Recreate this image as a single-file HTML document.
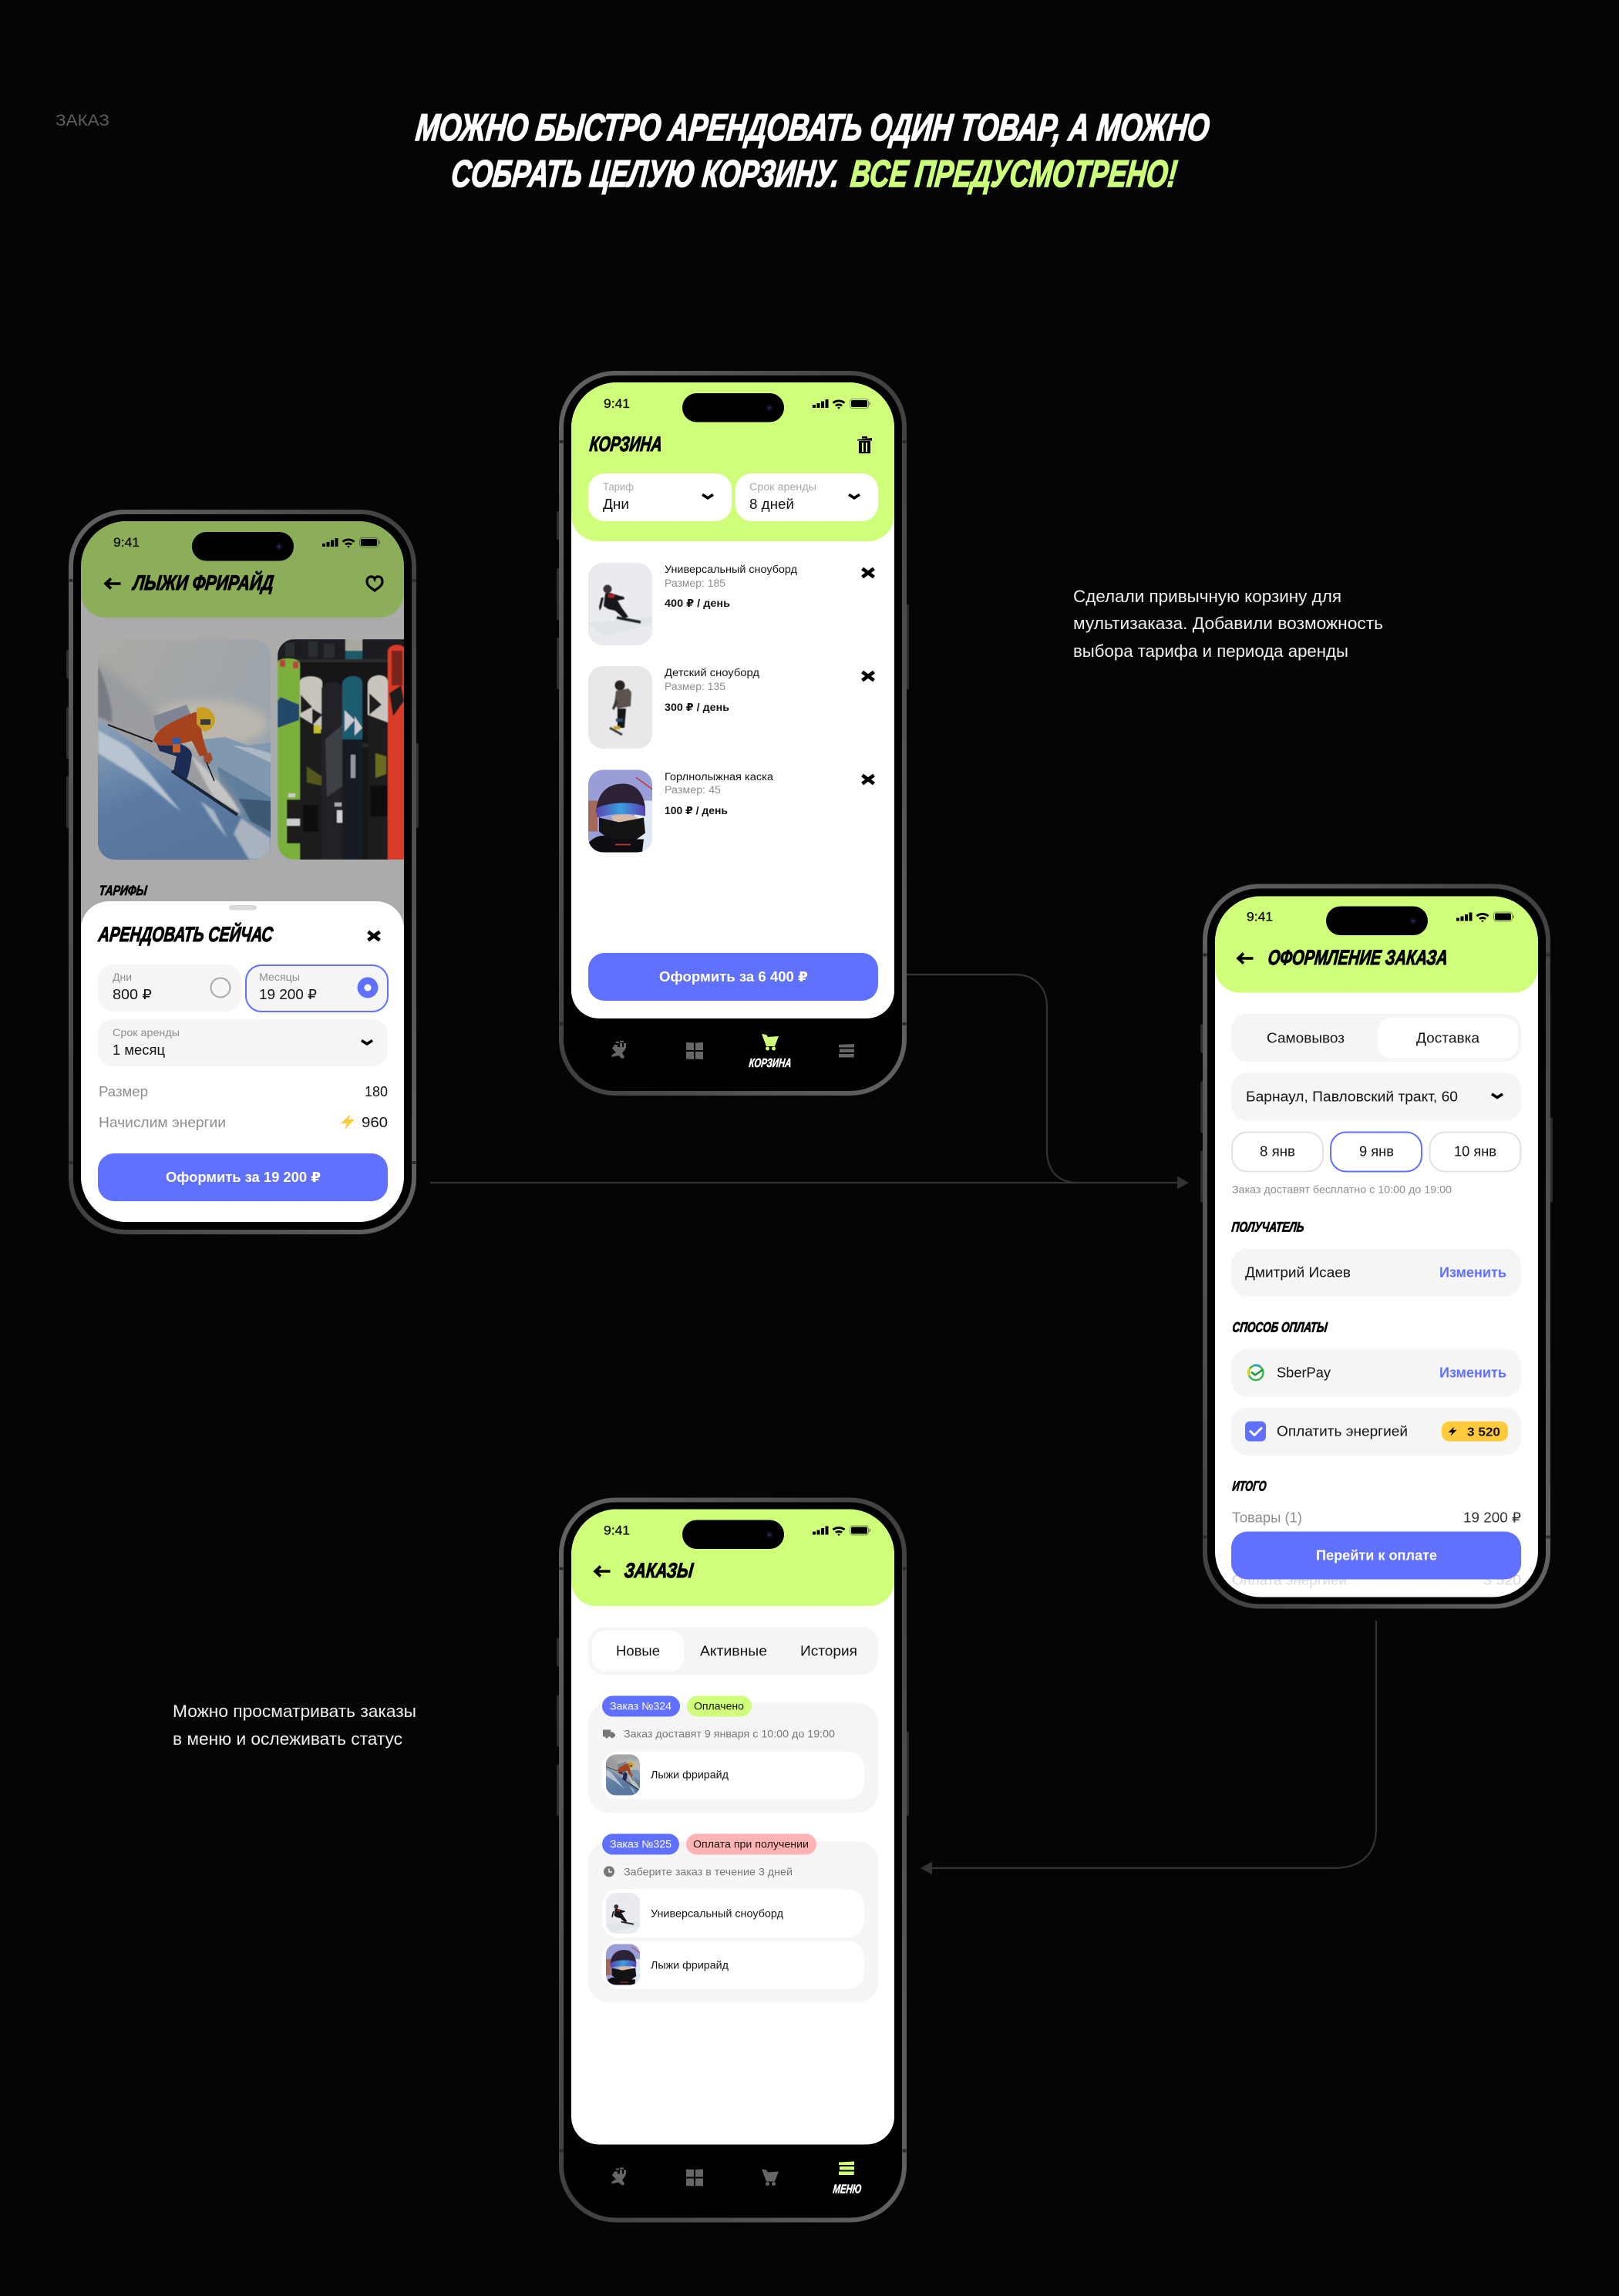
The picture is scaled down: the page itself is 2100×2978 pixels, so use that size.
<!DOCTYPE html>
<html lang="ru"><head><meta charset="utf-8"><title>Заказ</title>
<style>
html,body{margin:0;padding:0;background:#050505}
svg{display:block}
text{font-family:"Liberation Sans","DejaVu Sans",sans-serif;fill:#141414;font-size:18px;white-space:pre}
.s{font-size:13.5px}
.g{fill:#8e8e8e}
.dg{fill:#777}
.m{font-weight:bold}
.w{fill:#fff}
.bl{fill:#6070ff;font-weight:bold}
.st{font-size:17px;fill:#111;stroke:#111;stroke-width:.35px}
.h{font-weight:bold;font-style:italic;fill:#000;stroke:#000;stroke-width:1.1px;font-size:27px}
.h2{font-weight:bold;font-style:italic;fill:#000;stroke:#000;stroke-width:.8px;font-size:18px}
.t{font-weight:bold;font-style:italic;fill:#fff;stroke:#fff;stroke-width:.5px;font-size:16px}
.tt{font-weight:bold;font-style:italic;font-size:49px;fill:#fff;stroke:#fff;stroke-width:1.6px}
.tg{fill:#ccff7a;stroke:#ccff7a}
.side{font-size:22px;fill:#f0f0f0}
.ic{fill:none;stroke:#000;stroke-width:3.6;stroke-linecap:butt;stroke-linejoin:miter}
</style></head><body>
<svg width="2100" height="2978" viewBox="0 0 2100 2978">
<defs>
<clipPath id="scr"><rect width="419" height="909" rx="59"/></clipPath>
<clipPath id="c224"><rect width="224" height="286" rx="22"/></clipPath>
<clipPath id="c83"><rect width="83" height="107" rx="19"/></clipPath>
<clipPath id="c44"><rect width="44" height="53" rx="13"/></clipPath>
<linearGradient id="ring" x1="0" y1="0" x2="1" y2="1"><stop offset="0" stop-color="#626262"/><stop offset=".5" stop-color="#404040"/><stop offset="1" stop-color="#626262"/></linearGradient>
<linearGradient id="sky" x1="0" y1="0" x2="1" y2=".6"><stop offset="0" stop-color="#acaaa5"/><stop offset="1" stop-color="#9aa4ad"/></linearGradient>
<linearGradient id="snow" x1="0" y1="0" x2=".5" y2="1"><stop offset="0" stop-color="#8ea3bb"/><stop offset=".55" stop-color="#5b7ba2"/><stop offset="1" stop-color="#56769c"/></linearGradient>
<linearGradient id="gog" x1="0" y1="0" x2="1" y2="0"><stop offset="0" stop-color="#5a3fb0"/><stop offset=".5" stop-color="#3aa0e0"/><stop offset="1" stop-color="#5a3fb0"/></linearGradient>
<linearGradient id="fade" x1="0" y1="0" x2="0" y2="1"><stop offset="0" stop-color="#fff" stop-opacity="0"/><stop offset="1" stop-color="#fff"/></linearGradient>
<filter id="bl5" x="-20%" y="-20%" width="140%" height="140%"><feGaussianBlur stdDeviation="6"/></filter>
<filter id="bl1"><feGaussianBlur stdDeviation="1.200"/></filter>
<filter id="bl05"><feGaussianBlur stdDeviation=".6"/></filter>

<g id="frame">
<rect x="-19" y="167" width="5" height="37" rx="2" fill="#2c2c2c"/>
<rect x="-19" y="241" width="5" height="67" rx="2" fill="#2c2c2c"/>
<rect x="-19" y="331" width="5" height="67" rx="2" fill="#2c2c2c"/>
<rect x="433" y="288" width="5" height="110" rx="2" fill="#2c2c2c"/>
<rect x="-13" y="-12" width="445" height="934" rx="70" fill="#000" stroke="url(#ring)" stroke-width="6"/>
<rect x="-15.500" y="75" width="5" height="4" fill="#2a2a2a"/><rect x="429.500" y="75" width="5" height="4" fill="#2a2a2a"/>
<rect x="-15.500" y="830" width="5" height="4" fill="#2a2a2a"/><rect x="429.500" y="830" width="5" height="4" fill="#2a2a2a"/>
</g>

<g id="status">
<rect x="144" y="14" width="132" height="37.500" rx="18.700" fill="#000"/>
<circle cx="257" cy="33" r="4.500" fill="#0c0d1e"/><circle cx="257" cy="33" r="1.800" fill="#2b2950"/>
<path d="M313 29h4v4h-4zM318.500 27h4v6h-4zM324 24.500h4v8.500h-4zM329.500 22h4v11h-4z" fill="#000"/>
<path d="M338.500 25.500a13.500 13.500 0 0 1 17 0l-1.900 2.200a10.500 10.500 0 0 0-13.200 0zM342 29.200a8 8 0 0 1 10 0l-1.900 2.200a5 5 0 0 0-6.200 0zM345.200 32.700a3 3 0 0 1 3.600 0l-1.800 2z" fill="#000"/>
<rect x="361.500" y="21.500" width="24" height="12" rx="3.500" fill="none" stroke="#000" stroke-opacity=".4"/>
<rect x="363" y="23" width="21" height="9" rx="2" fill="#000"/>
<rect x="386.500" y="25.500" width="1.500" height="4" rx=".7" fill="#000" fill-opacity=".5"/>
</g>

<path id="back" class="ic" d="M21.500 0H2M9-6.500L2 0L9 6.500"/>
<path id="chev" class="ic" d="M-7-2.500L0 2L7-2.500"/>
<path id="x" class="ic" style="stroke-width:4.600" d="M-7.500-5.500L7.500 5.500M7.500-5.500L-7.500 5.500"/>
<path id="bolt" d="M4-10L-9 2H-1L-4 10L9-3H1z"/>

<g id="tab0"><path d="M5 3h4v3h3V1h3v5h2V1h3v5l-1 3-4 5 2 3 1 3-3 1-5-4-4 1-5 1 1-3 5-3-3-3-2-2z"/><rect x="7" y="-1" width="4" height="2"/><rect x="12" y="-2" width="5" height="2"/></g>
<g id="tab1"><path d="M0 0l10 .500v9.500H0zM12 .500L22 0v10H12zM0 12h10v10L0 21.500zM12 12h10v10l-10-.500z"/></g>
<g id="tab2"><path d="M0 0L6 1L8 4L22 3L17 16H6zM5 19a2.500 2.500 0 1 0 5 0a2.500 2.500 0 1 0-5 0zM13 19a2.500 2.500 0 1 0 5 0a2.500 2.500 0 1 0-5 0z"/></g>
<g id="tab3"><path d="M0 1L20 0v4.500H0zM1 6.500H20V11H1zM0 13H20L19.500 17.500H0z"/></g>
<g id="trash"><path d="M0 4L19 2v3.500H0zM6 0h7v2.500H6zM2 6h15v16H2z" fill="#000"/><rect x="6" y="8" width="2" height="12" fill="#cfff7a"/><rect x="11" y="8" width="2" height="12" fill="#cfff7a"/></g>

<g id="ski">
<rect width="224" height="286" fill="url(#sky)"/>
<ellipse cx="140" cy="110" rx="80" ry="30" fill="#bcb7ae" filter="url(#bl5)"/>
<path d="M135 130L165 127L195 138L224 134V260H135z" fill="#8098b0"/>
<path d="M175 138L224 160V148L200 141z" fill="#aab8c6"/>
<path d="M155 165L224 205V265H170z" fill="#5f7e9c"/>
<path d="M182 207L224 210V250L198 236z" fill="#3f5873"/>
<path d="M-10 25C30 45 70 85 100 125C135 160 170 190 188 230L160 240L95 175L-10 115z" fill="#9a9c9f" filter="url(#bl5)"/>
<path d="M120 150C150 175 175 205 185 226L150 205z" fill="#c5c5c4" filter="url(#bl1)"/>
<path d="M0 35C12 60 20 90 18 108L0 100z" fill="#777b82" filter="url(#bl1)"/>
<path d="M0 104C50 135 130 195 224 256V286H0z" fill="url(#snow)"/>
<path d="M0 118L40 140L108 224L62 186L0 148z" fill="#b8c4d0" filter="url(#bl1)"/>
<path d="M133 210L150 222L168 258L148 234z" fill="#a8b7c6" filter="url(#bl1)"/>
<path d="M186 232L224 258V286H196L176 252z" fill="#a9b3bf" filter="url(#bl1)"/>
<path d="M13 111L71 133" stroke="#111" stroke-width="2"/>
<path d="M96 171L181 228" stroke="#1a2532" stroke-width="4"/>
<path d="M75 132C90 130 120 135 122 150C120 165 118 175 115 182L98 172L102 152L80 145z" fill="#1d2c55"/>
<path d="M72 100L115 85L125 108L90 120L75 118z" fill="#7e8594"/>
<path d="M72 132C75 115 100 105 125 95C140 92 140 105 135 110C132 120 140 140 143 150L132 152L122 132L98 138L80 138z" fill="#a5431f"/>
<path d="M128 90C140 84 152 95 152 105C152 112 146 118 138 120L128 110z" fill="#c99f22"/>
<path d="M133 104h13v7h-13z" fill="#3a3a38"/>
<path d="M97 135h10v12h-10z" fill="#c0602a"/><path d="M97 128h10v8h-10z" fill="#2c5aa8"/>
<path d="M137 150l9-3 3 9-5 6-6-2z" fill="#a04a2a"/>
<path d="M141 160L151 184" stroke="#111" stroke-width="1.500"/>
</g>

<g id="skis">
<g filter="url(#bl05)">
<rect width="224" height="286" fill="#141414"/>
<rect x="0" y="0" width="224" height="28" fill="#1d1f20"/>
<path d="M10 5h12v18H10zM40 3h12v20H40zM60 6h14v18H60z" fill="#2c2d2e"/>
<path d="M88 15h22v14H88z" fill="#1f5a68"/><path d="M88 0h22v15H88z" fill="#a9a8a0"/>
<rect x="25" y="26" width="120" height="4" fill="#2b2b2b"/>
<rect x="0" y="135" width="164" height="5" fill="#2a2a2a"/>
<path d="M0 30C0 24 28 22 29 32V286H0z" fill="#7cb03c"/>
<path d="M4 75L28 85V105L0 115V80z" fill="#214a68"/>
<rect x="3" y="27" width="7" height="9" fill="#b5453d"/><rect x="20" y="29" width="7" height="9" fill="#b5453d"/>
<rect x="14" y="200" width="9" height="5" fill="#ccc"/>
<path d="M12 208h18v35H12z" fill="#1c1c1c"/><path d="M12 233h20v9H12z" fill="#ccc"/>
<path d="M12 243h18v22H12z" fill="#1c1c1c"/>
<path d="M29 55C30 46 57 46 58 56V286H29z" fill="#1d1d1b"/>
<path d="M29 55C30 46 57 46 58 56V118L29 100z" fill="#c8c3bb"/>
<path d="M30 72L45 88L30 96zM45 90L58 98L45 112z" fill="#1a1a1a"/>
<rect x="47" y="112" width="9" height="10" fill="#c9bb2c"/>
<path d="M38 165L57 178V190L38 186z" fill="#55561f"/>
<rect x="33" y="215" width="20" height="35" fill="#0d0d0d"/>
<path d="M57 65C58 53 84 53 85 65V286H57z" fill="#242427"/>
<path d="M62 130L85 110V190L64 205z" fill="#3e3f45"/>
<rect x="74" y="212" width="9" height="5" fill="#aaa"/>
<path d="M77 222h13v16H77z" fill="#cfcfcf"/>
<path d="M84 58C85 45 109 45 110 56V286H84z" fill="#1d5a70"/>
<path d="M84 130H110V286H84z" fill="#141d24"/>
<path d="M87 92L100 105L87 120zM100 100L110 115L100 125z" fill="#c9ccd0"/>
<rect x="95" y="150" width="6" height="30" fill="#c9ccd0" opacity=".7"/>
<path d="M117 58C118 45 142 43 143 55V286H117z" fill="#1c1c1a"/>
<path d="M117 58C118 45 142 43 143 55V108L117 98z" fill="#c9c5be"/>
<path d="M119 70L135 85L119 98z" fill="#1a1a1a"/>
<path d="M127 148L141 152V175L127 180z" fill="#6a6a24"/>
<path d="M120 190h22v40h-22z" fill="#0c0c0c"/>
<path d="M143 15C145 5 165 5 166 15V286H143z" fill="#d93a25"/>
<path d="M145 70L160 60L164 80L150 100z" fill="#1c1c1c"/>
<path d="M148 15h14v45H148z" fill="#7a201a"/>
</g>
</g>

<g id="sb1">
<rect width="83" height="107" fill="#e9ebee"/>
<path d="M0 78L83 70V80L20 95z" fill="#e1e4e8"/>
<g filter="url(#bl05)">
<circle cx="25" cy="34" r="5.500" fill="#3a3338"/>
<path d="M22 40C28 37 38 43 46 44L47 47L38 49L44 59L52 70L46 72L35 62L26 60L20 56z" fill="#15151b"/>
<path d="M26 41L34 41L34 45L26 45z" fill="#b52020"/>
<path d="M20 45L17 58L15 62L14 57L17 45z" fill="#15151b"/>
<path d="M37 71L68 77" stroke="#23242b" stroke-width="3.500"/>
</g>
</g>
<g id="sb2">
<rect width="83" height="107" fill="#e8e8ea"/>
<g filter="url(#bl05)">
<circle cx="41" cy="25" r="6.500" fill="#2a2422"/>
<path d="M36 32L52 29L56 34L55 52L38 55L34 48z" fill="#5c534f"/>
<path d="M36 42L31 55L33 57L39 48z" fill="#3f3836"/>
<path d="M38 55H49L47 80H38z" fill="#161616"/>
<rect x="36" y="68" width="9" height="4" fill="#2a4a70"/>
<path d="M28 80L44 89" stroke="#3a3a3a" stroke-width="3"/>
<rect x="33" y="78" width="8" height="4" fill="#c6a020"/>
</g>
</g>
<g id="sb3">
<rect width="83" height="107" fill="#9a9ed8"/>
<rect x="60" y="40" width="23" height="67" fill="#dfe9f6"/>
<rect x="0" y="40" width="12" height="40" fill="#a36a5a"/>
<path d="M62 10L83 25" stroke="#c03030" stroke-width="1.500"/>
<path d="M10 55C12 25 30 18 45 18C62 18 72 30 74 50z" fill="#2c2135"/>
<path d="M10 50C25 42 60 40 74 48L74 60C55 56 30 56 12 62z" fill="url(#gog)"/>
<path d="M30 60C45 56 60 58 66 64L60 72H35z" fill="#d7b9a6"/>
<path d="M14 62L40 68L72 62L74 82L60 92H30L14 80z" fill="#131316"/>
<path d="M0 95C10 85 20 82 32 90L72 90L70 107H0z" fill="#0e0e12"/>
<path d="M35 96h20v2H35z" fill="#b03030"/>
</g>
</defs>

<rect width="2100" height="2978" fill="#050505"/>

<text x="72" y="163" style="font-size:21px;fill:#5e5e5e" textLength="70" lengthAdjust="spacingAndGlyphs">ЗАКАЗ</text>
<text class="tt" transform="translate(538,182) skewX(-6)" textLength="1029" lengthAdjust="spacingAndGlyphs">МОЖНО БЫСТРО АРЕНДОВАТЬ ОДИН ТОВАР, А МОЖНО</text>
<text class="tt" transform="translate(584,242) skewX(-6)" textLength="503" lengthAdjust="spacingAndGlyphs">СОБРАТЬ ЦЕЛУЮ КОРЗИНУ.</text>
<text class="tt tg" transform="translate(1102,242) skewX(-6)" textLength="423" lengthAdjust="spacingAndGlyphs">ВСЕ ПРЕДУСМОТРЕНО!</text>

<text class="side" x="1392" y="781" textLength="348" lengthAdjust="spacingAndGlyphs">Сделали привычную корзину для</text>
<text class="side" x="1392" y="816" textLength="402" lengthAdjust="spacingAndGlyphs">мультизаказа. Добавили возможность</text>
<text class="side" x="1392" y="852" textLength="357" lengthAdjust="spacingAndGlyphs">выбора тарифа и периода аренды</text>
<text class="side" x="224" y="2227" textLength="316" lengthAdjust="spacingAndGlyphs">Можно просматривать заказы</text>
<text class="side" x="224" y="2263" textLength="298" lengthAdjust="spacingAndGlyphs">в меню и ослеживать статус</text>

<!-- connectors -->
<g fill="none" stroke="#333" stroke-width="2.200">
<path d="M1175 1264H1316C1342 1264 1358 1280 1358 1306V1492C1358 1518 1372 1534 1398 1534"/>
<path d="M558 1534H1530"/>
<path d="M1785 2102V2372C1785 2405 1765 2423 1730 2423H1208"/>
</g>
<path d="M1527 1525.500L1542 1534L1527 1542.500z" fill="#333"/>
<path d="M1209 2414.500L1194 2423L1209 2431.500z" fill="#333"/>

<!-- PHONE 1 -->
<g transform="translate(105,676)">
<use href="#frame"/>
<g clip-path="url(#scr)">
<rect width="419" height="909" fill="#ababab"/>
<rect y="-50" width="419" height="175" rx="32" fill="#8cae58"/>
<g transform="translate(22,153)" clip-path="url(#c224)"><use href="#ski"/></g>
<g transform="translate(255,153)" clip-path="url(#c224)"><use href="#skis"/></g>
<text class="h2" transform="translate(23,485) skewX(-6)" textLength="62" lengthAdjust="spacingAndGlyphs">ТАРИФЫ</text>
<rect y="493" width="419" height="460" rx="36" fill="#fff"/>
<rect x="192" y="498" width="36" height="6.500" rx="3" fill="#d9d9d9"/>
<text class="h" transform="translate(22,545) skewX(-6)" textLength="226" lengthAdjust="spacingAndGlyphs">АРЕНДОВАТЬ СЕЙЧАС</text>
<use href="#x" x="380" y="538"/>
<rect x="22" y="575" width="186" height="61" rx="20" fill="#f5f5f5"/>
<rect x="214" y="576" width="184" height="60" rx="20" fill="#f5f5f5" stroke="#6070ff" stroke-width="2"/>
<text class="s g" x="41" y="596" textLength="25" lengthAdjust="spacingAndGlyphs">Дни</text>
<text x="41" y="620" textLength="51" lengthAdjust="spacingAndGlyphs">800 ₽</text>
<circle cx="181" cy="605" r="12.500" fill="none" stroke="#a8a8a8" stroke-width="2"/>
<text class="s g" x="231" y="596" textLength="53" lengthAdjust="spacingAndGlyphs">Месяцы</text>
<text x="231" y="620" textLength="75" lengthAdjust="spacingAndGlyphs">19 200 ₽</text>
<circle cx="372" cy="605" r="13.500" fill="#6070ff"/><circle cx="372" cy="605" r="4.500" fill="#fff"/>
<rect x="22" y="646" width="376" height="61" rx="20" fill="#f5f5f5"/>
<text class="s g" x="41" y="668" textLength="87" lengthAdjust="spacingAndGlyphs">Срок аренды</text>
<text x="41" y="692" textLength="68" lengthAdjust="spacingAndGlyphs">1 месяц</text>
<use href="#chev" x="371" y="676"/>
<text class="g" x="23" y="746" textLength="64" lengthAdjust="spacingAndGlyphs">Размер</text>
<text x="368" y="746" textLength="30" lengthAdjust="spacingAndGlyphs">180</text>
<text class="g" x="23" y="786" textLength="165" lengthAdjust="spacingAndGlyphs">Начислим энергии</text>
<use href="#bolt" x="346" y="779" fill="#ffcb3d"/>
<text x="364" y="786" textLength="34" lengthAdjust="spacingAndGlyphs">960</text>
<rect x="22" y="820" width="376" height="62" rx="21" fill="#6070ff"/>
<text class="w m" x="110" y="857" textLength="201" lengthAdjust="spacingAndGlyphs">Оформить за 19 200 ₽</text>
<text class="st" x="42" y="33" textLength="34" lengthAdjust="spacingAndGlyphs">9:41</text>
<use href="#status"/>
<use href="#back" x="30" y="81"/>
<text class="h" transform="translate(67,89) skewX(-6)" textLength="182" lengthAdjust="spacingAndGlyphs">ЛЫЖИ ФРИРАЙД</text>
<path class="ic" style="stroke-width:3.200" d="M381 90C376 86 371 84 371 78C371 71 379 70 381 75C383 70 391 71 391 78C391 84 386 86 381 90z"/>
</g>
</g>

<!-- PHONE 2 -->
<g transform="translate(741,496)">
<use href="#frame"/>
<g clip-path="url(#scr)">
<rect width="419" height="909" fill="#000"/>
<rect y="-50" width="419" height="875" rx="36" fill="#fff"/>
<rect y="-50" width="419" height="256" rx="34" fill="#cfff7a"/>
<text class="st" x="42" y="33" textLength="34" lengthAdjust="spacingAndGlyphs">9:41</text>
<use href="#status"/>
<text class="h" transform="translate(23,89) skewX(-6)" textLength="94" lengthAdjust="spacingAndGlyphs">КОРЗИНА</text>
<use href="#trash" x="371" y="70"/>
<rect x="22" y="118" width="186" height="62" rx="21" fill="#fff"/>
<rect x="213" y="118" width="185" height="62" rx="21" fill="#fff"/>
<text class="s" style="fill:#aaa" x="41" y="140" textLength="40" lengthAdjust="spacingAndGlyphs">Тариф</text>
<text x="41" y="164" textLength="34" lengthAdjust="spacingAndGlyphs">Дни</text>
<use href="#chev" x="177" y="148"/>
<text class="s" style="fill:#aaa" x="231" y="140" textLength="87" lengthAdjust="spacingAndGlyphs">Срок аренды</text>
<text x="231" y="164" textLength="58" lengthAdjust="spacingAndGlyphs">8 дней</text>
<use href="#chev" x="367" y="148"/>

<g transform="translate(22,234)" clip-path="url(#c83)"><use href="#sb1"/></g>
<text class="s" x="121" y="247" textLength="172" lengthAdjust="spacingAndGlyphs">Универсальный сноуборд</text>
<text class="s g" x="121" y="265" textLength="79" lengthAdjust="spacingAndGlyphs">Размер: 185</text>
<text class="s m" x="121" y="291" textLength="85" lengthAdjust="spacingAndGlyphs">400 ₽ / день</text>
<use href="#x" x="385" y="247"/>

<g transform="translate(22,368)" clip-path="url(#c83)"><use href="#sb2"/></g>
<text class="s" x="121" y="381" textLength="123" lengthAdjust="spacingAndGlyphs">Детский сноуборд</text>
<text class="s g" x="121" y="399" textLength="79" lengthAdjust="spacingAndGlyphs">Размер: 135</text>
<text class="s m" x="121" y="426" textLength="84" lengthAdjust="spacingAndGlyphs">300 ₽ / день</text>
<use href="#x" x="385" y="381"/>

<g transform="translate(22,502.500)" clip-path="url(#c83)"><use href="#sb3"/></g>
<text class="s" x="121" y="516" textLength="141" lengthAdjust="spacingAndGlyphs">Горлнолыжная каска</text>
<text class="s g" x="121" y="533" textLength="73" lengthAdjust="spacingAndGlyphs">Размер: 45</text>
<text class="s m" x="121" y="560" textLength="82" lengthAdjust="spacingAndGlyphs">100 ₽ / день</text>
<use href="#x" x="385" y="515"/>

<rect x="22" y="740" width="376" height="62" rx="21" fill="#6070ff"/>
<text class="w m" x="114" y="777" textLength="193" lengthAdjust="spacingAndGlyphs">Оформить за 6 400 ₽</text>

<use href="#tab0" x="51" y="856" fill="#666"/>
<use href="#tab1" x="149" y="856" fill="#666"/>
<use href="#tab2" x="247" y="845" fill="#cfff7a"/>
<use href="#tab3" x="347" y="858" fill="#666"/>
<text class="t" transform="translate(230,888) skewX(-6)" textLength="55" lengthAdjust="spacingAndGlyphs">КОРЗИНА</text>
</g>
</g>

<!-- PHONE 3 -->
<g transform="translate(1576,1162.500)">
<use href="#frame" y="-1"/>
<g clip-path="url(#scr)">
<rect width="419" height="909" fill="#fff"/>
<rect y="-50" width="419" height="175" rx="32" fill="#cfff7a"/>
<text class="st" x="41" y="32" textLength="34" lengthAdjust="spacingAndGlyphs">9:41</text>
<use href="#status" y="-1"/>
<use href="#back" x="28" y="80.500"/>
<text class="h" transform="translate(68,88.500) skewX(-6)" textLength="233" lengthAdjust="spacingAndGlyphs">ОФОРМЛЕНИЕ ЗАКАЗА</text>

<rect x="21" y="152.500" width="376" height="62" rx="21" fill="#f5f5f5"/>
<rect x="211" y="157.500" width="182" height="52.500" rx="17" fill="#fff"/>
<text x="67" y="190" textLength="101" lengthAdjust="spacingAndGlyphs">Самовывоз</text>
<text x="261" y="190" textLength="82" lengthAdjust="spacingAndGlyphs">Доставка</text>

<rect x="21" y="229" width="376" height="62" rx="21" fill="#f5f5f5"/>
<text x="40" y="266" textLength="275" lengthAdjust="spacingAndGlyphs">Барнаул, Павловский тракт, 60</text>
<use href="#chev" x="366" y="259"/>

<rect x="22" y="306" width="118" height="51" rx="20" fill="#fff" stroke="#e2e2e2" stroke-width="2"/>
<rect x="150" y="306" width="118" height="51" rx="20" fill="#fff" stroke="#6070ff" stroke-width="2"/>
<rect x="278.500" y="306" width="118" height="51" rx="20" fill="#fff" stroke="#e2e2e2" stroke-width="2"/>
<text x="58" y="337" textLength="46" lengthAdjust="spacingAndGlyphs">8 янв</text>
<text x="187" y="337" textLength="45" lengthAdjust="spacingAndGlyphs">9 янв</text>
<text x="310" y="337" textLength="55" lengthAdjust="spacingAndGlyphs">10 янв</text>
<text class="s g" x="22" y="385" textLength="285" lengthAdjust="spacingAndGlyphs">Заказ доставят бесплатно с 10:00 до 19:00</text>

<text class="h2" transform="translate(21,435) skewX(-6)" textLength="94" lengthAdjust="spacingAndGlyphs">ПОЛУЧАТЕЛЬ</text>
<rect x="21" y="457" width="376" height="62" rx="21" fill="#f5f5f5"/>
<text x="39" y="494" textLength="137" lengthAdjust="spacingAndGlyphs">Дмитрий Исаев</text>
<text class="bl" x="291" y="494" textLength="87" lengthAdjust="spacingAndGlyphs">Изменить</text>

<text class="h2" transform="translate(22,565) skewX(-6)" textLength="123" lengthAdjust="spacingAndGlyphs">СПОСОБ ОПЛАТЫ</text>
<rect x="21" y="587" width="376" height="62" rx="21" fill="#f5f5f5"/>
<circle cx="53" cy="618" r="9.500" fill="none" stroke="#3db54a" stroke-width="2.500"/>
<path d="M45 612a10 10 0 0 0-1 10" fill="none" stroke="#e8d420" stroke-width="2.500"/>
<path d="M50 608.500a10 10 0 0 1 9 1.500" fill="none" stroke="#2aa0d8" stroke-width="2.500"/>
<path d="M47 617l5 4 10-7" fill="none" stroke="#1a9a3a" stroke-width="2.500"/>
<text x="80" y="624" textLength="70" lengthAdjust="spacingAndGlyphs">SberPay</text>
<text class="bl" x="291" y="624" textLength="87" lengthAdjust="spacingAndGlyphs">Изменить</text>

<rect x="21" y="663" width="376" height="62" rx="21" fill="#f5f5f5"/>
<rect x="39" y="681" width="27" height="26" rx="6" fill="#6070ff"/>
<path d="M46 694l5 5l9-9" fill="none" stroke="#fff" stroke-width="3" stroke-linecap="round" stroke-linejoin="round"/>
<text x="80" y="700" textLength="170" lengthAdjust="spacingAndGlyphs">Оплатить энергией</text>
<rect x="294" y="681" width="86" height="26" rx="10" fill="#ffcb3d"/>
<use href="#bolt" transform="translate(308,694) scale(.6)" fill="#000"/>
<text class="m" style="font-size:16px" x="327" y="700" textLength="43" lengthAdjust="spacingAndGlyphs">3 520</text>

<text class="h2" transform="translate(22,771) skewX(-6)" textLength="44" lengthAdjust="spacingAndGlyphs">ИТОГО</text>
<text class="g" x="22" y="812" textLength="91" lengthAdjust="spacingAndGlyphs">Товары (1)</text>
<text x="322" y="812" textLength="75" lengthAdjust="spacingAndGlyphs" style="fill:#333">19 200 ₽</text>
<text class="g" x="22" y="893" textLength="149" lengthAdjust="spacingAndGlyphs" style="fill:#ccc">Оплата энергией</text>
<text x="348" y="893" textLength="49" lengthAdjust="spacingAndGlyphs" style="fill:#ccc">3 520</text>
<rect x="0" y="880" width="419" height="15" fill="url(#fade)" opacity=".4"/>
<rect x="21" y="824" width="376" height="62" rx="21" fill="#6070ff"/>
<text class="w m" x="131" y="861" textLength="157" lengthAdjust="spacingAndGlyphs">Перейти к оплате</text>
</g>
</g>

<!-- PHONE 4 -->
<g transform="translate(741,1957.500)">
<use href="#frame"/>
<g clip-path="url(#scr)">
<rect width="419" height="909" fill="#000"/>
<rect y="-50" width="419" height="874" rx="36" fill="#fff"/>
<rect y="-50" width="419" height="175.500" rx="32" fill="#cfff7a"/>
<text class="st" x="42" y="33" textLength="34" lengthAdjust="spacingAndGlyphs">9:41</text>
<use href="#status"/>
<use href="#back" x="29" y="80.500"/>
<text class="h" transform="translate(68,88.500) skewX(-6)" textLength="89" lengthAdjust="spacingAndGlyphs">ЗАКАЗЫ</text>

<rect x="22" y="152.500" width="376" height="62" rx="21" fill="#f5f5f5"/>
<rect x="27" y="157.500" width="119" height="52.500" rx="17" fill="#fff"/>
<text x="58" y="190" textLength="57" lengthAdjust="spacingAndGlyphs">Новые</text>
<text x="167" y="190" textLength="87" lengthAdjust="spacingAndGlyphs">Активные</text>
<text x="297" y="190" textLength="74" lengthAdjust="spacingAndGlyphs">История</text>

<rect x="22" y="251" width="376" height="143" rx="27" fill="#f5f5f5"/>
<rect x="40" y="242" width="101" height="27" rx="13.500" fill="#6070ff"/>
<text class="s w" x="50" y="260" textLength="80" lengthAdjust="spacingAndGlyphs">Заказ №324</text>
<rect x="150" y="242" width="84" height="27" rx="13.500" fill="#cfff7a"/>
<text class="s" x="159" y="260" textLength="65" lengthAdjust="spacingAndGlyphs">Оплачено</text>
<path d="M41 286h10v3h3l3 3v3h-2a2 2 0 0 1-4 0h-3a2 2 0 0 1-4 0h-3z" fill="#777"/>
<text class="s dg" x="68" y="296" textLength="274" lengthAdjust="spacingAndGlyphs">Заказ доставят 9 января с 10:00 до 19:00</text>
<rect x="40" y="314" width="340" height="62" rx="21" fill="#fff"/>
<g transform="translate(45,318)" clip-path="url(#c44)"><svg width="44" height="53" viewBox="15 50 170 205" preserveAspectRatio="xMidYMid slice"><use href="#ski"/></svg></g>
<text class="s" x="103" y="349" textLength="101" lengthAdjust="spacingAndGlyphs">Лыжи фрирайд</text>

<rect x="22" y="431" width="376" height="209" rx="27" fill="#f5f5f5"/>
<rect x="40" y="421" width="100" height="27" rx="13.500" fill="#6070ff"/>
<text class="s w" x="50" y="439" textLength="80" lengthAdjust="spacingAndGlyphs">Заказ №325</text>
<rect x="149" y="421" width="169" height="27" rx="13.500" fill="#ffb3b3"/>
<text class="s" x="158" y="439" textLength="150" lengthAdjust="spacingAndGlyphs">Оплата при получении</text>
<circle cx="49" cy="470" r="7" fill="#777"/><path d="M49 466v4.500h4" fill="none" stroke="#f5f5f5" stroke-width="1.500"/>
<text class="s dg" x="68" y="475" textLength="219" lengthAdjust="spacingAndGlyphs">Заберите заказ в течение 3 дней</text>
<rect x="40" y="493" width="340" height="62.500" rx="21" fill="#fff"/>
<g transform="translate(45,497.500)" clip-path="url(#c44)"><svg width="44" height="53" viewBox="0 0 83 100" preserveAspectRatio="xMidYMid slice"><use href="#sb1"/></svg></g>
<text class="s" x="103" y="529" textLength="172" lengthAdjust="spacingAndGlyphs">Универсальный сноуборд</text>
<rect x="40" y="560" width="340" height="62.500" rx="21" fill="#fff"/>
<g transform="translate(45,564)" clip-path="url(#c44)"><svg width="44" height="53" viewBox="0 0 83 107" preserveAspectRatio="xMidYMid slice"><use href="#sb3"/></svg></g>
<text class="s" x="103" y="596" textLength="101" lengthAdjust="spacingAndGlyphs">Лыжи фрирайд</text>

<use href="#tab0" x="51" y="856" fill="#666"/>
<use href="#tab1" x="149" y="856" fill="#666"/>
<use href="#tab2" x="247" y="856" fill="#666"/>
<use href="#tab3" x="347" y="846" fill="#cfff7a"/>
<text class="t" transform="translate(339,887) skewX(-6)" textLength="37" lengthAdjust="spacingAndGlyphs">МЕНЮ</text>
</g>
</g>
</svg>
</body></html>
